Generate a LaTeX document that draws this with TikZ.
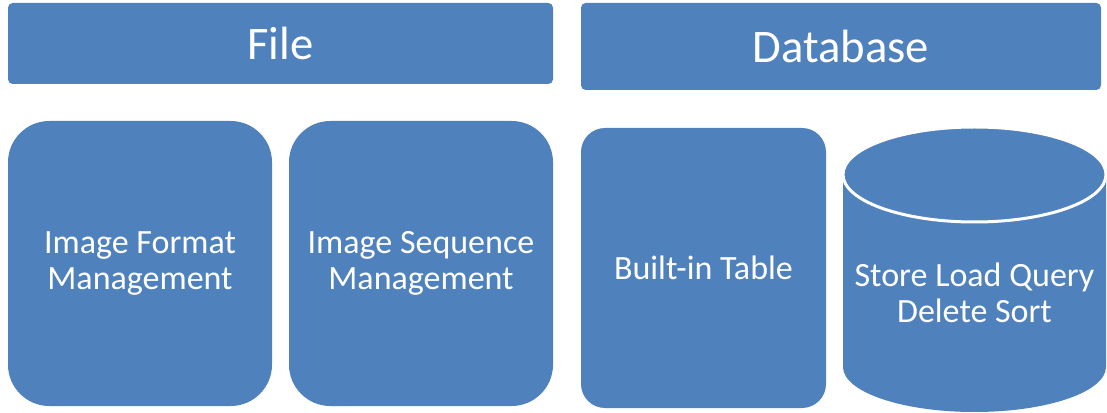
\documentclass[tikz,border=0pt]{standalone}
\usepackage{fontspec}
\setmainfont{Carlito}
\definecolor{boxblue}{RGB}{79,129,189}
\tikzset{every picture/.style={line width=0.75pt}}
\tikzset{
	bar/.style={fill=boxblue, draw=none, rounded corners=3.5pt, text=white, font=\fontsize{35}{42}\selectfont},
	block/.style={fill=boxblue, draw=none, text=white, align=center, font=\fontsize{25.5}{27}\selectfont},
}

\begin{document}
\begin{tikzpicture}[x=0.75pt,y=0.75pt,yscale=-1,xscale=1]
	\useasboundingbox (0,0) rectangle (1107,413);

	% Title bars
	\node [bar, minimum width=408.75pt, minimum height=60.75pt] (file) at (280.5,43.5) {File};
	\node [bar, minimum width=390pt, minimum height=65.25pt] (database) at (841,46.5) {Database};

	% Blocks
	\node [block, rounded corners=31pt, minimum width=198pt, minimum height=213.75pt] (format) at (140,263.5) {Image Format\\Management};
	\node [block, rounded corners=31pt, minimum width=198pt, minimum height=213.75pt] (sequence) at (421,263.5) {Image Sequence\\Management};
	\node [block, rounded corners=18pt, minimum width=183.75pt, minimum height=210pt] (table) at (703.5,268) {Built-in Table};

	%Shape: Can
	\fill [boxblue] (843,174.5) -- (843,367) arc [start angle=180, end angle=0, x radius=131.5, y radius=45] -- (1106,174.5) -- cycle;
	\draw [white, fill=boxblue, line width=2.25pt] (974.5,174.5) ellipse [x radius=131.5, y radius=47.5];
	% Text Node
	\node [block] (store) at (974.5,293) {Store Load Query\\Delete Sort};

\end{tikzpicture}
\end{document}
